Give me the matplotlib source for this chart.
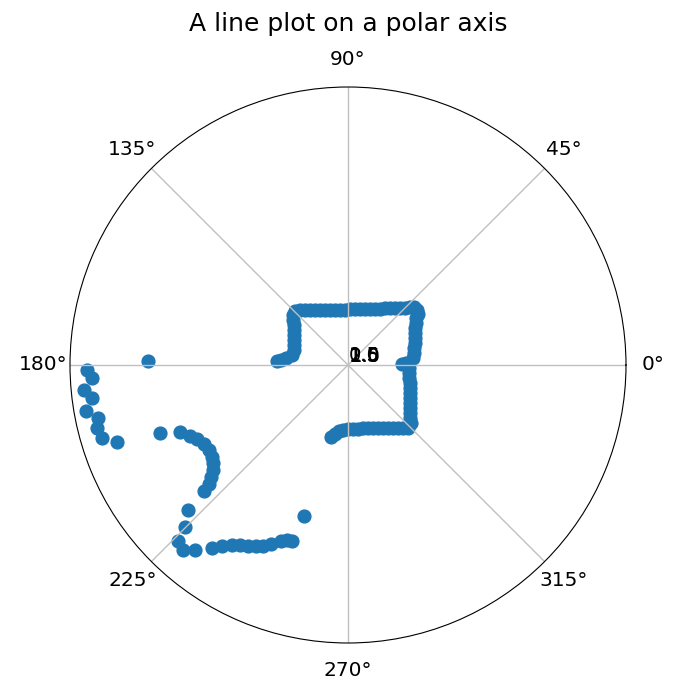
import numpy as np
import matplotlib
matplotlib.use("Agg")
from matplotlib import pyplot as plt


# angles in degrees, radii in plot units (outer circle = 278)
loop_theta = [176.8, 175.7, 173.6, 169.9, 164.5, 159.7, 155.2, 151.0, 147.0, 143.5,
              140.7, 137.7, 134.5,
              131.1, 128.0, 124.6, 121.0, 117.0, 112.6, 108.1, 103.3, 98.3, 93.1,
              88.0, 82.9, 77.9, 73.1, 68.6, 64.3, 60.3, 57.0, 53.6, 50.5, 47.6, 45.0,
              43.1, 41.3, 38.6, 36.1,
              34.7, 31.7, 28.9, 25.5, 22.0, 18.2, 14.4, 10.3, 6.2, 2.0, 1.1,
              357.2, 352.5, 348.0, 343.8, 339.6, 335.7, 332.0, 328.5, 325.3, 322.2,
              319.5, 317.4, 313.6,
              311.1, 308.4, 305.5, 302.4, 299.1, 295.5, 291.6, 287.6, 283.4, 278.9,
              274.5, 270.0, 265.6, 262.2, 259.3, 256.7]
loop_r = [71.1, 67.2, 62.4, 56.9, 56.0, 57.6, 59.5, 61.8, 64.4, 67.2,
          71.1, 74.3, 75.7,
          73.0, 69.8, 66.9, 64.1, 61.7, 59.6, 57.9, 56.5, 55.6, 55.1,
          56.0, 56.4, 57.3, 58.5, 60.2, 62.2, 64.5, 68.0, 70.8, 73.9, 77.2, 80.6,
          84.9, 87.9, 88.2, 86.6,
          82.7, 79.9, 76.5, 74.2, 72.2, 70.5, 68.2, 67.1, 65.4, 58.0, 54.0,
          61.1, 61.5, 62.4, 64.6, 66.1, 68.0, 70.2, 72.7, 75.5, 78.4,
          81.6, 85.6, 87.0,
          83.6, 80.4, 77.4, 74.6, 72.1, 69.8, 67.8, 66.1, 64.8, 64.8,
          64.2, 64.0, 65.2, 66.6, 70.2, 74.0]

outer_theta = [178.9, 181.1, 182.9, 185.4, 187.3, 190.0, 192.0, 194.1, 196.5, 198.4,
               199.9,
               201.7, 204.2, 206.1, 208.8, 211.5, 214.1, 216.0, 217.9, 219.3, 220.6,
               221.2,
               222.2, 224.8, 226.0, 228.3, 230.4, 233.4, 235.2, 237.2, 239.0, 241.1,
               243.1, 244.8, 246.7, 249.2, 250.8, 252.4, 253.8]
outer_r = [200.0, 261.0, 256.3, 265.2, 258.1, 266.0, 255.6, 258.8, 256.6, 243.5,
           199.9,
           180.9, 173.2, 168.2, 164.2, 162.9, 164.2, 166.8, 171.0, 177.0, 183.0,
           191.3,
           215.9, 229.8, 244.7, 247.9, 240.1, 228.0, 220.5, 214.1, 209.9, 206.8,
           203.0, 200.0, 194.9, 188.3, 185.3, 184.7, 157.3]

r_ticks = [0.5, 1, 1.5, 2]
r_max = 278

theta = np.deg2rad(loop_theta + outer_theta)
r = np.array(loop_r + outer_r)

fig = plt.figure(figsize=(6.98, 6.96), dpi=100)
ax = fig.add_axes([70 / 698, 53 / 696, 556 / 698, 556 / 696], projection="polar")
ax.scatter(theta, r, s=85, color="#1f77b4")
ax.set_rmax(r_max)
ax.set_rticks(r_ticks)
ax.set_rlabel_position(-22.5)
ax.yaxis.grid(False)
ax.xaxis.grid(True, color="#c0c0c0", linewidth=1.0)
ax.tick_params(axis="x", labelsize=14.5, pad=9)
ax.tick_params(axis="y", labelsize=14)
ax.set_title("A line plot on a polar axis", fontsize=18, y=1.10, pad=0)

plt.savefig("out.png", dpi=100)
